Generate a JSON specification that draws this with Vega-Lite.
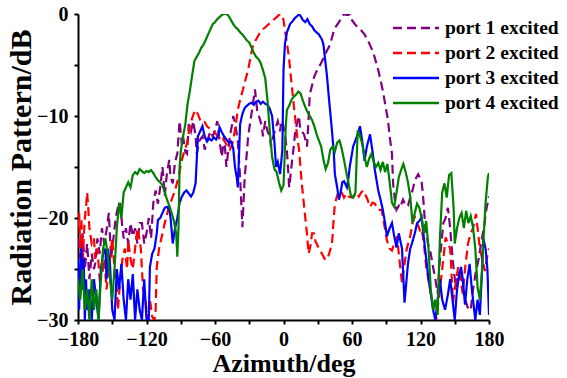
{
  "$schema": "https://vega.github.io/schema/vega-lite/v6.json",
  "autosize": "none",
  "width": 411,
  "height": 306,
  "padding": {"left": 78, "top": 14, "right": 78, "bottom": 58},
  "background": "white",
  "config": {
    "view": {"stroke": null},
    "axis": {
      "grid": false,
      "domainColor": "black", "domainWidth": 2,
      "tickColor": "black", "tickWidth": 2, "tickSize": 4,
      "labelFont": "Liberation Serif", "labelFontWeight": "bold", "labelFontSize": 20, "labelColor": "black",
      "titleFont": "Liberation Serif", "titleFontWeight": "bold", "titleFontSize": 26, "titleColor": "black"
    },
    "legend": {
      "labelFont": "Liberation Serif", "labelFontWeight": "bold", "labelFontSize": 19.5, "labelColor": "black", "labelLimit": 0
    }
  },
  "data": {"values": [
{"p":"1","x":-180,"y":-22},{"p":"1","x":-178,"y":-24},{"p":"1","x":-176,"y":-21.5},{"p":"1","x":-174,"y":-25},{"p":"1","x":-172,"y":-22.5},{"p":"1","x":-170,"y":-26},{"p":"1","x":-168,"y":-23.5},{"p":"1","x":-166,"y":-25},{"p":"1","x":-165,"y":-24.5},{"p":"1","x":-163,"y":-22},{"p":"1","x":-161,"y":-23.5},{"p":"1","x":-159,"y":-21},{"p":"1","x":-157,"y":-22.5},{"p":"1","x":-155,"y":-21.2},{"p":"1","x":-153,"y":-19.5},{"p":"1","x":-151,"y":-24},{"p":"1","x":-149,"y":-22},{"p":"1","x":-147,"y":-20},{"p":"1","x":-145,"y":-18.9},{"p":"1","x":-143,"y":-18.5},{"p":"1","x":-141.5,"y":-20.5},{"p":"1","x":-140,"y":-22},{"p":"1","x":-138,"y":-21},{"p":"1","x":-136,"y":-22.5},{"p":"1","x":-134,"y":-20.5},{"p":"1","x":-132,"y":-21.8},{"p":"1","x":-130,"y":-21},{"p":"1","x":-128,"y":-22.5},{"p":"1","x":-126,"y":-20.5},{"p":"1","x":-124,"y":-20.5},{"p":"1","x":-122,"y":-22.5},{"p":"1","x":-120,"y":-21.5},{"p":"1","x":-118,"y":-20},{"p":"1","x":-116,"y":-22},{"p":"1","x":-114,"y":-18.5},{"p":"1","x":-112,"y":-17.3},{"p":"1","x":-110,"y":-18.6},{"p":"1","x":-108,"y":-17},{"p":"1","x":-106,"y":-15},{"p":"1","x":-104,"y":-17.8},{"p":"1","x":-102,"y":-15.5},{"p":"1","x":-100,"y":-14.3},{"p":"1","x":-99,"y":-16},{"p":"1","x":-97,"y":-16.6},{"p":"1","x":-95,"y":-14.5},{"p":"1","x":-93,"y":-13.7},{"p":"1","x":-91,"y":-10.5},{"p":"1","x":-89,"y":-12.8},{"p":"1","x":-88,"y":-12},{"p":"1","x":-86,"y":-13.5},{"p":"1","x":-84.5,"y":-13.7},{"p":"1","x":-83,"y":-10.8},{"p":"1","x":-81,"y":-11.5},{"p":"1","x":-79,"y":-10.5},{"p":"1","x":-77,"y":-12},{"p":"1","x":-76,"y":-13.7},{"p":"1","x":-74,"y":-12.5},{"p":"1","x":-71,"y":-12},{"p":"1","x":-69,"y":-13.3},{"p":"1","x":-67,"y":-12.5},{"p":"1","x":-64,"y":-11.5},{"p":"1","x":-62,"y":-12},{"p":"1","x":-60,"y":-11.4},{"p":"1","x":-58,"y":-10.5},{"p":"1","x":-56,"y":-12.5},{"p":"1","x":-54,"y":-14},{"p":"1","x":-52,"y":-12},{"p":"1","x":-50,"y":-15},{"p":"1","x":-48,"y":-13},{"p":"1","x":-47,"y":-12},{"p":"1","x":-45,"y":-10.8},{"p":"1","x":-44,"y":-10},{"p":"1","x":-42,"y":-11},{"p":"1","x":-40,"y":-12.5},{"p":"1","x":-38,"y":-16},{"p":"1","x":-37,"y":-18.5},{"p":"1","x":-36,"y":-20.9},{"p":"1","x":-35,"y":-18.5},{"p":"1","x":-34,"y":-16},{"p":"1","x":-32,"y":-13.5},{"p":"1","x":-31,"y":-12},{"p":"1","x":-29,"y":-10.5},{"p":"1","x":-27,"y":-9},{"p":"1","x":-25,"y":-7.4},{"p":"1","x":-23,"y":-9.5},{"p":"1","x":-21,"y":-10.2},{"p":"1","x":-19,"y":-11},{"p":"1","x":-18,"y":-12},{"p":"1","x":-16,"y":-10.5},{"p":"1","x":-14,"y":-11.5},{"p":"1","x":-12,"y":-12},{"p":"1","x":-11,"y":-13},{"p":"1","x":-9,"y":-12},{"p":"1","x":-7,"y":-11.2},{"p":"1","x":-5,"y":-10.5},{"p":"1","x":-3,"y":-11.5},{"p":"1","x":-2,"y":-10.5},{"p":"1","x":0,"y":-11},{"p":"1","x":1.5,"y":-12},{"p":"1","x":3,"y":-13.4},{"p":"1","x":5,"y":-17},{"p":"1","x":6,"y":-16},{"p":"1","x":7.4,"y":-14.5},{"p":"1","x":9,"y":-13},{"p":"1","x":10,"y":-11.8},{"p":"1","x":12,"y":-10.6},{"p":"1","x":13.6,"y":-10},{"p":"1","x":14.5,"y":-11.2},{"p":"1","x":16,"y":-11.5},{"p":"1","x":18,"y":-11.8},{"p":"1","x":20.6,"y":-13},{"p":"1","x":22,"y":-10.2},{"p":"1","x":23,"y":-7.9},{"p":"1","x":25,"y":-7},{"p":"1","x":26.7,"y":-6.2},{"p":"1","x":29,"y":-5.6},{"p":"1","x":31,"y":-5.2},{"p":"1","x":33,"y":-4.8},{"p":"1","x":35.5,"y":-4.2},{"p":"1","x":38,"y":-3.6},{"p":"1","x":40,"y":-3.2},{"p":"1","x":42,"y":-2.5},{"p":"1","x":44,"y":-1.7},{"p":"1","x":46,"y":-1.2},{"p":"1","x":48.6,"y":-0.8},{"p":"1","x":51,"y":-0.3},{"p":"1","x":53,"y":0},{"p":"1","x":55,"y":-0.1},{"p":"1","x":57,"y":-0.1},{"p":"1","x":58,"y":0},{"p":"1","x":60,"y":-0.6},{"p":"1","x":62.6,"y":-1},{"p":"1","x":65,"y":-1.3},{"p":"1","x":68,"y":-1.6},{"p":"1","x":71,"y":-2},{"p":"1","x":74,"y":-2.6},{"p":"1","x":76,"y":-3.1},{"p":"1","x":78,"y":-3.6},{"p":"1","x":80,"y":-4.3},{"p":"1","x":83,"y":-5.5},{"p":"1","x":85,"y":-6.5},{"p":"1","x":87,"y":-7.5},{"p":"1","x":89,"y":-8.8},{"p":"1","x":91.5,"y":-10.4},{"p":"1","x":93,"y":-12},{"p":"1","x":95,"y":-13.7},{"p":"1","x":96,"y":-16.6},{"p":"1","x":97.5,"y":-18.2},{"p":"1","x":99,"y":-19.2},{"p":"1","x":101,"y":-18.8},{"p":"1","x":102,"y":-19},{"p":"1","x":104.7,"y":-18.2},{"p":"1","x":107,"y":-18.8},{"p":"1","x":109,"y":-18.8},{"p":"1","x":111,"y":-18},{"p":"1","x":113,"y":-17.3},{"p":"1","x":115,"y":-16.3},{"p":"1","x":118,"y":-15.7},{"p":"1","x":120,"y":-16.2},{"p":"1","x":121,"y":-16.5},{"p":"1","x":122,"y":-17.5},{"p":"1","x":124,"y":-20.5},{"p":"1","x":126.5,"y":-22.5},{"p":"1","x":129,"y":-23.5},{"p":"1","x":131,"y":-24.8},{"p":"1","x":133,"y":-26},{"p":"1","x":135,"y":-27.4},{"p":"1","x":137,"y":-24},{"p":"1","x":140,"y":-20.5},{"p":"1","x":142,"y":-20},{"p":"1","x":144,"y":-19},{"p":"1","x":146,"y":-21},{"p":"1","x":147,"y":-22.5},{"p":"1","x":149,"y":-25},{"p":"1","x":151,"y":-26.8},{"p":"1","x":153,"y":-25.5},{"p":"1","x":155.5,"y":-25.5},{"p":"1","x":158,"y":-27.5},{"p":"1","x":160,"y":-28.3},{"p":"1","x":162,"y":-29},{"p":"1","x":164,"y":-29},{"p":"1","x":166,"y":-27},{"p":"1","x":168.6,"y":-25.2},{"p":"1","x":171,"y":-24},{"p":"1","x":173,"y":-22.5},{"p":"1","x":175.5,"y":-21},{"p":"1","x":177.6,"y":-19.2},{"p":"1","x":180,"y":-17.9},

{"p":"2","x":-180,"y":-21},{"p":"2","x":-179,"y":-19.5},{"p":"2","x":-178,"y":-23},{"p":"2","x":-177,"y":-20},{"p":"2","x":-176,"y":-25},{"p":"2","x":-175,"y":-22},{"p":"2","x":-174,"y":-20},{"p":"2","x":-173,"y":-19},{"p":"2","x":-172,"y":-17.5},{"p":"2","x":-171,"y":-19},{"p":"2","x":-170,"y":-21},{"p":"2","x":-168,"y":-22.5},{"p":"2","x":-166,"y":-22},{"p":"2","x":-165,"y":-24},{"p":"2","x":-163,"y":-23},{"p":"2","x":-161,"y":-26},{"p":"2","x":-159,"y":-25.7},{"p":"2","x":-157,"y":-24},{"p":"2","x":-155,"y":-27},{"p":"2","x":-153,"y":-25},{"p":"2","x":-151,"y":-23},{"p":"2","x":-150,"y":-22},{"p":"2","x":-148,"y":-25},{"p":"2","x":-146,"y":-27},{"p":"2","x":-145,"y":-29},{"p":"2","x":-143,"y":-26},{"p":"2","x":-141,"y":-24},{"p":"2","x":-139,"y":-23},{"p":"2","x":-137,"y":-25},{"p":"2","x":-136,"y":-22.2},{"p":"2","x":-134,"y":-24},{"p":"2","x":-132,"y":-25},{"p":"2","x":-130,"y":-23},{"p":"2","x":-128,"y":-21},{"p":"2","x":-127,"y":-21.5},{"p":"2","x":-125,"y":-23},{"p":"2","x":-123,"y":-27},{"p":"2","x":-121,"y":-28},{"p":"2","x":-119,"y":-30},{"p":"2","x":-117,"y":-28},{"p":"2","x":-115,"y":-29.7},{"p":"2","x":-113,"y":-30},{"p":"2","x":-112,"y":-29},{"p":"2","x":-111,"y":-24.8},{"p":"2","x":-109,"y":-23},{"p":"2","x":-107,"y":-22},{"p":"2","x":-106,"y":-21.5},{"p":"2","x":-104,"y":-20.5},{"p":"2","x":-101,"y":-19.2},{"p":"2","x":-98,"y":-18.2},{"p":"2","x":-95,"y":-17.3},{"p":"2","x":-92,"y":-16},{"p":"2","x":-89,"y":-14.3},{"p":"2","x":-87,"y":-13.5},{"p":"2","x":-84.5,"y":-12.7},{"p":"2","x":-82,"y":-11},{"p":"2","x":-80,"y":-10.2},{"p":"2","x":-77.5,"y":-9.4},{"p":"2","x":-75,"y":-9.8},{"p":"2","x":-73,"y":-10.4},{"p":"2","x":-71,"y":-10.7},{"p":"2","x":-69,"y":-10.6},{"p":"2","x":-67,"y":-11},{"p":"2","x":-65,"y":-11.2},{"p":"2","x":-63,"y":-11.4},{"p":"2","x":-61,"y":-11.5},{"p":"2","x":-59,"y":-11.8},{"p":"2","x":-57,"y":-12},{"p":"2","x":-55,"y":-12.3},{"p":"2","x":-53,"y":-12.1},{"p":"2","x":-51,"y":-12.6},{"p":"2","x":-49,"y":-13},{"p":"2","x":-47,"y":-13.3},{"p":"2","x":-45,"y":-12.8},{"p":"2","x":-44,"y":-12.3},{"p":"2","x":-42,"y":-11},{"p":"2","x":-40,"y":-9.4},{"p":"2","x":-38,"y":-8.4},{"p":"2","x":-35.5,"y":-7.4},{"p":"2","x":-33,"y":-6.3},{"p":"2","x":-31,"y":-5.5},{"p":"2","x":-29,"y":-4.3},{"p":"2","x":-27,"y":-3.2},{"p":"2","x":-25,"y":-2.7},{"p":"2","x":-23,"y":-2.3},{"p":"2","x":-21,"y":-1.9},{"p":"2","x":-18,"y":-1.5},{"p":"2","x":-15,"y":-1.2},{"p":"2","x":-12,"y":-0.9},{"p":"2","x":-9,"y":-0.6},{"p":"2","x":-6,"y":-0.3},{"p":"2","x":-3,"y":0},{"p":"2","x":-1,"y":-0.2},{"p":"2","x":0,"y":-0.6},{"p":"2","x":1.3,"y":-1.6},{"p":"2","x":3,"y":-2.8},{"p":"2","x":5,"y":-4.5},{"p":"2","x":7.4,"y":-7.2},{"p":"2","x":10,"y":-10},{"p":"2","x":12,"y":-12},{"p":"2","x":13.6,"y":-13.3},{"p":"2","x":16,"y":-16.6},{"p":"2","x":19,"y":-19.9},{"p":"2","x":20.5,"y":-21.5},{"p":"2","x":22,"y":-23.5},{"p":"2","x":23.5,"y":-22.8},{"p":"2","x":25,"y":-21.5},{"p":"2","x":26.7,"y":-21.5},{"p":"2","x":28,"y":-22.3},{"p":"2","x":29,"y":-22.5},{"p":"2","x":31,"y":-23},{"p":"2","x":33.7,"y":-23.5},{"p":"2","x":36,"y":-24},{"p":"2","x":38,"y":-24.1},{"p":"2","x":40,"y":-23.5},{"p":"2","x":42.5,"y":-22.5},{"p":"2","x":44,"y":-20},{"p":"2","x":45,"y":-18.6},{"p":"2","x":47,"y":-17.8},{"p":"2","x":48.6,"y":-17.3},{"p":"2","x":51,"y":-17.5},{"p":"2","x":53,"y":-18},{"p":"2","x":55,"y":-17.6},{"p":"2","x":57,"y":-17.9},{"p":"2","x":60,"y":-18},{"p":"2","x":62,"y":-17.8},{"p":"2","x":64,"y":-17.5},{"p":"2","x":66,"y":-17.9},{"p":"2","x":68,"y":-17.5},{"p":"2","x":70,"y":-17.3},{"p":"2","x":72,"y":-17.8},{"p":"2","x":73,"y":-18},{"p":"2","x":75.8,"y":-18.9},{"p":"2","x":78,"y":-18.5},{"p":"2","x":80,"y":-18.6},{"p":"2","x":83,"y":-19.2},{"p":"2","x":86,"y":-19.2},{"p":"2","x":88,"y":-20.5},{"p":"2","x":90.6,"y":-22.2},{"p":"2","x":93,"y":-23},{"p":"2","x":95,"y":-23.2},{"p":"2","x":97,"y":-22.5},{"p":"2","x":99.4,"y":-21.8},{"p":"2","x":101,"y":-23.5},{"p":"2","x":103.8,"y":-26.4},{"p":"2","x":106,"y":-24.5},{"p":"2","x":108,"y":-23},{"p":"2","x":111,"y":-21.8},{"p":"2","x":113,"y":-20.5},{"p":"2","x":115,"y":-19.9},{"p":"2","x":117,"y":-20.5},{"p":"2","x":119.5,"y":-21.2},{"p":"2","x":121,"y":-21},{"p":"2","x":123,"y":-22.5},{"p":"2","x":125,"y":-24.8},{"p":"2","x":127,"y":-26},{"p":"2","x":129,"y":-27.4},{"p":"2","x":131,"y":-28.5},{"p":"2","x":133.6,"y":-30},{"p":"2","x":136,"y":-28},{"p":"2","x":138,"y":-26},{"p":"2","x":140,"y":-24},{"p":"2","x":142,"y":-21.9},{"p":"2","x":144,"y":-22.5},{"p":"2","x":146,"y":-23},{"p":"2","x":148.5,"y":-28.3},{"p":"2","x":150,"y":-27},{"p":"2","x":153,"y":-24.8},{"p":"2","x":155,"y":-26},{"p":"2","x":157,"y":-27.4},{"p":"2","x":159,"y":-25},{"p":"2","x":161.6,"y":-22.5},{"p":"2","x":164,"y":-21.5},{"p":"2","x":166,"y":-21},{"p":"2","x":168.6,"y":-19.6},{"p":"2","x":170,"y":-21},{"p":"2","x":172,"y":-23},{"p":"2","x":174,"y":-24},{"p":"2","x":176.5,"y":-25.2},{"p":"2","x":178,"y":-24},{"p":"2","x":180,"y":-23},

{"p":"3","x":-180,"y":-24},{"p":"3","x":-179,"y":-29},{"p":"3","x":-178,"y":-25},{"p":"3","x":-177,"y":-23},{"p":"3","x":-176,"y":-27},{"p":"3","x":-175,"y":-24},{"p":"3","x":-174,"y":-30},{"p":"3","x":-173,"y":-26},{"p":"3","x":-172,"y":-29},{"p":"3","x":-170,"y":-27},{"p":"3","x":-168,"y":-30},{"p":"3","x":-166,"y":-26},{"p":"3","x":-164,"y":-28},{"p":"3","x":-162,"y":-30},{"p":"3","x":-160,"y":-25},{"p":"3","x":-158,"y":-23.5},{"p":"3","x":-156,"y":-23},{"p":"3","x":-155,"y":-26},{"p":"3","x":-154,"y":-23},{"p":"3","x":-152,"y":-24.5},{"p":"3","x":-150,"y":-29},{"p":"3","x":-148,"y":-30},{"p":"3","x":-146,"y":-25},{"p":"3","x":-144,"y":-27},{"p":"3","x":-142,"y":-24.5},{"p":"3","x":-140,"y":-28},{"p":"3","x":-138,"y":-30},{"p":"3","x":-136,"y":-26},{"p":"3","x":-134,"y":-28},{"p":"3","x":-132,"y":-25.5},{"p":"3","x":-130,"y":-30},{"p":"3","x":-128,"y":-27},{"p":"3","x":-126,"y":-29},{"p":"3","x":-124,"y":-30},{"p":"3","x":-122,"y":-26},{"p":"3","x":-120,"y":-30},{"p":"3","x":-118,"y":-30},{"p":"3","x":-117,"y":-24.8},{"p":"3","x":-115,"y":-23.5},{"p":"3","x":-113,"y":-23},{"p":"3","x":-111,"y":-21.5},{"p":"3","x":-110,"y":-20.2},{"p":"3","x":-108,"y":-20},{"p":"3","x":-106,"y":-19.5},{"p":"3","x":-104,"y":-19},{"p":"3","x":-102,"y":-18.9},{"p":"3","x":-100,"y":-19.2},{"p":"3","x":-99,"y":-19.9},{"p":"3","x":-97,"y":-22.5},{"p":"3","x":-95,"y":-21},{"p":"3","x":-93,"y":-20},{"p":"3","x":-91,"y":-18.5},{"p":"3","x":-89,"y":-17.9},{"p":"3","x":-87,"y":-17.5},{"p":"3","x":-85,"y":-17.3},{"p":"3","x":-83,"y":-17.6},{"p":"3","x":-81,"y":-17.9},{"p":"3","x":-79,"y":-17.5},{"p":"3","x":-77,"y":-16.6},{"p":"3","x":-75,"y":-12},{"p":"3","x":-73,"y":-11.5},{"p":"3","x":-71,"y":-11},{"p":"3","x":-69,"y":-12},{"p":"3","x":-67,"y":-12.5},{"p":"3","x":-65,"y":-12.2},{"p":"3","x":-63,"y":-12.4},{"p":"3","x":-61,"y":-12.1},{"p":"3","x":-59,"y":-12.3},{"p":"3","x":-57,"y":-11.8},{"p":"3","x":-56,"y":-11.1},{"p":"3","x":-54,"y":-11.6},{"p":"3","x":-52,"y":-12},{"p":"3","x":-50,"y":-12.3},{"p":"3","x":-48,"y":-12.6},{"p":"3","x":-46,"y":-12.5},{"p":"3","x":-44,"y":-13.2},{"p":"3","x":-42.5,"y":-15},{"p":"3","x":-41,"y":-16},{"p":"3","x":-40,"y":-17},{"p":"3","x":-39,"y":-14},{"p":"3","x":-38,"y":-10.8},{"p":"3","x":-36,"y":-9.8},{"p":"3","x":-34,"y":-9.2},{"p":"3","x":-32,"y":-9},{"p":"3","x":-30,"y":-8.8},{"p":"3","x":-28,"y":-8.7},{"p":"3","x":-26,"y":-8.9},{"p":"3","x":-24,"y":-8.6},{"p":"3","x":-22,"y":-8.5},{"p":"3","x":-20,"y":-8.8},{"p":"3","x":-18,"y":-8.6},{"p":"3","x":-16,"y":-8.8},{"p":"3","x":-14,"y":-8.9},{"p":"3","x":-12,"y":-9.3},{"p":"3","x":-10,"y":-10},{"p":"3","x":-8,"y":-12.5},{"p":"3","x":-6.5,"y":-15},{"p":"3","x":-5,"y":-14.5},{"p":"3","x":-3,"y":-15.7},{"p":"3","x":-1,"y":-13.3},{"p":"3","x":0,"y":-5.5},{"p":"3","x":1.3,"y":-2.9},{"p":"3","x":3,"y":-1.8},{"p":"3","x":5.7,"y":-1},{"p":"3","x":8,"y":-0.7},{"p":"3","x":10,"y":-0.4},{"p":"3","x":12,"y":-0.2},{"p":"3","x":13.6,"y":0},{"p":"3","x":15,"y":-0.2},{"p":"3","x":17,"y":-0.6},{"p":"3","x":19,"y":-0.8},{"p":"3","x":21,"y":-0.5},{"p":"3","x":23,"y":-1},{"p":"3","x":25,"y":-1.2},{"p":"3","x":27,"y":-1.6},{"p":"3","x":29,"y":-1.8},{"p":"3","x":31,"y":-2},{"p":"3","x":33.7,"y":-2.5},{"p":"3","x":35,"y":-3},{"p":"3","x":36,"y":-4},{"p":"3","x":38,"y":-6},{"p":"3","x":40,"y":-8.5},{"p":"3","x":42.5,"y":-11.5},{"p":"3","x":44,"y":-13.5},{"p":"3","x":45,"y":-15.7},{"p":"3","x":47,"y":-17},{"p":"3","x":48.6,"y":-18.2},{"p":"3","x":50,"y":-17.5},{"p":"3","x":51.5,"y":-16.5},{"p":"3","x":53,"y":-16.4},{"p":"3","x":55.6,"y":-17},{"p":"3","x":57,"y":-16},{"p":"3","x":58,"y":-15},{"p":"3","x":61,"y":-13},{"p":"3","x":63,"y":-12.4},{"p":"3","x":65,"y":-11.8},{"p":"3","x":67,"y":-11},{"p":"3","x":69,"y":-12.5},{"p":"3","x":71,"y":-14.4},{"p":"3","x":73,"y":-13},{"p":"3","x":75.8,"y":-11.8},{"p":"3","x":78,"y":-13.5},{"p":"3","x":80,"y":-15.3},{"p":"3","x":83,"y":-17.3},{"p":"3","x":85,"y":-18.2},{"p":"3","x":87,"y":-19.2},{"p":"3","x":89,"y":-20.5},{"p":"3","x":90.6,"y":-21.8},{"p":"3","x":93,"y":-21},{"p":"3","x":95,"y":-20.5},{"p":"3","x":97,"y":-21.8},{"p":"3","x":99,"y":-22.9},{"p":"3","x":101,"y":-21.5},{"p":"3","x":103.8,"y":-23},{"p":"3","x":106,"y":-28.3},{"p":"3","x":109,"y":-24.5},{"p":"3","x":111,"y":-23},{"p":"3","x":112.5,"y":-22.5},{"p":"3","x":115,"y":-21.5},{"p":"3","x":117,"y":-20.5},{"p":"3","x":119,"y":-20.3},{"p":"3","x":121,"y":-19.9},{"p":"3","x":123,"y":-22},{"p":"3","x":125,"y":-24},{"p":"3","x":127,"y":-26},{"p":"3","x":129,"y":-27.4},{"p":"3","x":131,"y":-29},{"p":"3","x":133,"y":-30},{"p":"3","x":135,"y":-28},{"p":"3","x":137,"y":-26},{"p":"3","x":139,"y":-28},{"p":"3","x":141.5,"y":-29},{"p":"3","x":144,"y":-27.5},{"p":"3","x":146,"y":-26},{"p":"3","x":148,"y":-28},{"p":"3","x":150,"y":-30},{"p":"3","x":152,"y":-27},{"p":"3","x":154,"y":-25.5},{"p":"3","x":155.5,"y":-24.8},{"p":"3","x":157,"y":-26},{"p":"3","x":159,"y":-28.5},{"p":"3","x":161,"y":-26},{"p":"3","x":163,"y":-24.5},{"p":"3","x":165,"y":-27},{"p":"3","x":168,"y":-30},{"p":"3","x":170,"y":-28},{"p":"3","x":172,"y":-29.5},{"p":"3","x":174,"y":-25},{"p":"3","x":175,"y":-22},{"p":"3","x":177,"y":-23},{"p":"3","x":178.6,"y":-25},{"p":"3","x":180,"y":-29.5},

{"p":"4","x":-180,"y":-26},{"p":"4","x":-178,"y":-28},{"p":"4","x":-176,"y":-25},{"p":"4","x":-174,"y":-29},{"p":"4","x":-172,"y":-27},{"p":"4","x":-170,"y":-30},{"p":"4","x":-168,"y":-26},{"p":"4","x":-166,"y":-29},{"p":"4","x":-164,"y":-27},{"p":"4","x":-162,"y":-30},{"p":"4","x":-160,"y":-26},{"p":"4","x":-158,"y":-23},{"p":"4","x":-156,"y":-22},{"p":"4","x":-154,"y":-23.5},{"p":"4","x":-152,"y":-26},{"p":"4","x":-150,"y":-28},{"p":"4","x":-148,"y":-25},{"p":"4","x":-146,"y":-21},{"p":"4","x":-144,"y":-18.5},{"p":"4","x":-142,"y":-20},{"p":"4","x":-140,"y":-17.5},{"p":"4","x":-138,"y":-17},{"p":"4","x":-136,"y":-16.5},{"p":"4","x":-134,"y":-17},{"p":"4","x":-132,"y":-15.8},{"p":"4","x":-130,"y":-15.5},{"p":"4","x":-128,"y":-15.7},{"p":"4","x":-126,"y":-15.2},{"p":"4","x":-124,"y":-15.4},{"p":"4","x":-122,"y":-15.6},{"p":"4","x":-120,"y":-15.4},{"p":"4","x":-118,"y":-15.5},{"p":"4","x":-116,"y":-15.3},{"p":"4","x":-114,"y":-15.6},{"p":"4","x":-112,"y":-16},{"p":"4","x":-110,"y":-16.3},{"p":"4","x":-108,"y":-16.5},{"p":"4","x":-106,"y":-16.8},{"p":"4","x":-104,"y":-17.5},{"p":"4","x":-102,"y":-18.2},{"p":"4","x":-100,"y":-18.8},{"p":"4","x":-98,"y":-19.5},{"p":"4","x":-96,"y":-20.3},{"p":"4","x":-94,"y":-21.5},{"p":"4","x":-93,"y":-23.8},{"p":"4","x":-92,"y":-21},{"p":"4","x":-91,"y":-15},{"p":"4","x":-90,"y":-13.5},{"p":"4","x":-88,"y":-12},{"p":"4","x":-86,"y":-10.8},{"p":"4","x":-84,"y":-8.8},{"p":"4","x":-82,"y":-7.5},{"p":"4","x":-80,"y":-6},{"p":"4","x":-78,"y":-4.6},{"p":"4","x":-76,"y":-4.2},{"p":"4","x":-74,"y":-3.8},{"p":"4","x":-72,"y":-3.3},{"p":"4","x":-70,"y":-3},{"p":"4","x":-68,"y":-2.5},{"p":"4","x":-66,"y":-2},{"p":"4","x":-64,"y":-1.5},{"p":"4","x":-62,"y":-1},{"p":"4","x":-60,"y":-0.8},{"p":"4","x":-58,"y":-0.5},{"p":"4","x":-56,"y":-0.3},{"p":"4","x":-54,"y":-0.1},{"p":"4","x":-52,"y":0},{"p":"4","x":-50,"y":0},{"p":"4","x":-48,"y":-0.2},{"p":"4","x":-46,"y":-0.6},{"p":"4","x":-44,"y":-1},{"p":"4","x":-42,"y":-1.3},{"p":"4","x":-40,"y":-1.5},{"p":"4","x":-38,"y":-1.8},{"p":"4","x":-36,"y":-2},{"p":"4","x":-34,"y":-2.3},{"p":"4","x":-32,"y":-2.6},{"p":"4","x":-30,"y":-2.8},{"p":"4","x":-28,"y":-3.3},{"p":"4","x":-26,"y":-3.8},{"p":"4","x":-24,"y":-4.2},{"p":"4","x":-22,"y":-4.4},{"p":"4","x":-20,"y":-4.8},{"p":"4","x":-18,"y":-5.5},{"p":"4","x":-16,"y":-6.3},{"p":"4","x":-14,"y":-8.5},{"p":"4","x":-12,"y":-11.5},{"p":"4","x":-10,"y":-14},{"p":"4","x":-8,"y":-15.2},{"p":"4","x":-6,"y":-15.5},{"p":"4","x":-4,"y":-16.5},{"p":"4","x":-2,"y":-17.3},{"p":"4","x":0,"y":-16.8},{"p":"4","x":1,"y":-14},{"p":"4","x":2,"y":-11},{"p":"4","x":3,"y":-9.4},{"p":"4","x":5,"y":-9},{"p":"4","x":7,"y":-8.4},{"p":"4","x":9,"y":-8.1},{"p":"4","x":11,"y":-7.9},{"p":"4","x":13,"y":-7.6},{"p":"4","x":15,"y":-7.8},{"p":"4","x":17,"y":-8.5},{"p":"4","x":19,"y":-9.1},{"p":"4","x":21,"y":-9.6},{"p":"4","x":23,"y":-10},{"p":"4","x":25,"y":-10.4},{"p":"4","x":27,"y":-11},{"p":"4","x":29,"y":-11.8},{"p":"4","x":31,"y":-12.4},{"p":"4","x":33,"y":-13},{"p":"4","x":35,"y":-14.3},{"p":"4","x":37,"y":-15.2},{"p":"4","x":39,"y":-14.6},{"p":"4","x":41,"y":-13.3},{"p":"4","x":43,"y":-13},{"p":"4","x":45,"y":-13.5},{"p":"4","x":47,"y":-12.6},{"p":"4","x":49,"y":-12.4},{"p":"4","x":51,"y":-13.2},{"p":"4","x":53,"y":-14.3},{"p":"4","x":55,"y":-15.5},{"p":"4","x":57,"y":-16.6},{"p":"4","x":59,"y":-17.8},{"p":"4","x":61,"y":-18},{"p":"4","x":63,"y":-17.5},{"p":"4","x":65,"y":-11.4},{"p":"4","x":67,"y":-12},{"p":"4","x":69,"y":-12.7},{"p":"4","x":71,"y":-14},{"p":"4","x":73,"y":-15},{"p":"4","x":75,"y":-14.2},{"p":"4","x":77,"y":-13.7},{"p":"4","x":79,"y":-14.5},{"p":"4","x":81,"y":-15},{"p":"4","x":83,"y":-14.6},{"p":"4","x":85,"y":-15.3},{"p":"4","x":87,"y":-14.5},{"p":"4","x":89,"y":-15.5},{"p":"4","x":91,"y":-14.7},{"p":"4","x":93,"y":-16.5},{"p":"4","x":95,"y":-18.5},{"p":"4","x":97,"y":-18.9},{"p":"4","x":99,"y":-17.5},{"p":"4","x":101,"y":-16},{"p":"4","x":103,"y":-15.3},{"p":"4","x":105,"y":-14.7},{"p":"4","x":107,"y":-15.5},{"p":"4","x":109,"y":-16.5},{"p":"4","x":111,"y":-17.9},{"p":"4","x":113,"y":-20.5},{"p":"4","x":115,"y":-19.5},{"p":"4","x":117,"y":-18.6},{"p":"4","x":119,"y":-19},{"p":"4","x":121,"y":-20},{"p":"4","x":123,"y":-21.5},{"p":"4","x":125,"y":-20.3},{"p":"4","x":127,"y":-23},{"p":"4","x":129,"y":-27},{"p":"4","x":131,"y":-29},{"p":"4","x":133,"y":-28},{"p":"4","x":135,"y":-29.5},{"p":"4","x":137,"y":-22},{"p":"4","x":139,"y":-17.5},{"p":"4","x":141,"y":-16.6},{"p":"4","x":143,"y":-18},{"p":"4","x":145,"y":-15.8},{"p":"4","x":147,"y":-15.6},{"p":"4","x":149,"y":-19},{"p":"4","x":150,"y":-22.5},{"p":"4","x":152,"y":-21},{"p":"4","x":154,"y":-20},{"p":"4","x":156,"y":-19.5},{"p":"4","x":158,"y":-21},{"p":"4","x":160,"y":-19.3},{"p":"4","x":162,"y":-20.5},{"p":"4","x":164,"y":-19.8},{"p":"4","x":166,"y":-20.9},{"p":"4","x":168,"y":-23},{"p":"4","x":170,"y":-26.8},{"p":"4","x":172,"y":-28},{"p":"4","x":174,"y":-25},{"p":"4","x":175,"y":-22.5},{"p":"4","x":177,"y":-18.5},{"p":"4","x":179,"y":-16},{"p":"4","x":180,"y":-15.6}
  ]},
  "mark": {"type": "line", "strokeWidth": 2.2, "clip": true},
  "encoding": {
    "x": {"field": "x", "type": "quantitative",
      "scale": {"domain": [-180, 180], "nice": false, "zero": false},
      "axis": {"title": "Azimuth/deg", "values": [-180,-150,-120,-90,-60,-30,0,30,60,90,120,150,180],
        "labelExpr": "datum.value % 60 == 0 ? datum.label : ''", "labelPadding": 5, "titlePadding": 1, "labelFlush": false, "labelOverlap": false}},
    "y": {"field": "y", "type": "quantitative",
      "scale": {"domain": [-30, 0], "nice": false, "zero": false},
      "axis": {"title": "Radiation Pattern/dB", "titleFontSize": 30, "values": [-30,-25,-20,-15,-10,-5,0],
        "labelExpr": "datum.value % 10 == 0 ? datum.label : ''", "labelPadding": 6, "titlePadding": 0, "labelFlush": false, "labelOverlap": false}},
    "color": {"field": "p", "type": "nominal",
      "scale": {"domain": ["1","2","3","4"], "range": ["#800080","#ff0000","#0000ff","#008000"]},
      "legend": {"title": null, "orient": "none", "legendX": 325, "legendY": 1, "symbolType": "M-2,0H2", "symbolSize": 530, "symbolStrokeWidth": 2.5,
        "labelExpr": "'port ' + datum.label + ' excited'", "labelOffset": 16, "rowPadding": 2}},
    "strokeDash": {"field": "p", "type": "nominal",
      "scale": {"domain": ["1","2","3","4"], "range": [[9,5],[9,5],[1,0],[1,0]]},
      "legend": {"title": null, "orient": "none", "legendX": 325, "legendY": 1, "symbolType": "M-2,0H2", "symbolSize": 530, "symbolStrokeWidth": 2.5,
        "labelExpr": "'port ' + datum.label + ' excited'", "labelOffset": 16, "rowPadding": 2}}
  }
}
